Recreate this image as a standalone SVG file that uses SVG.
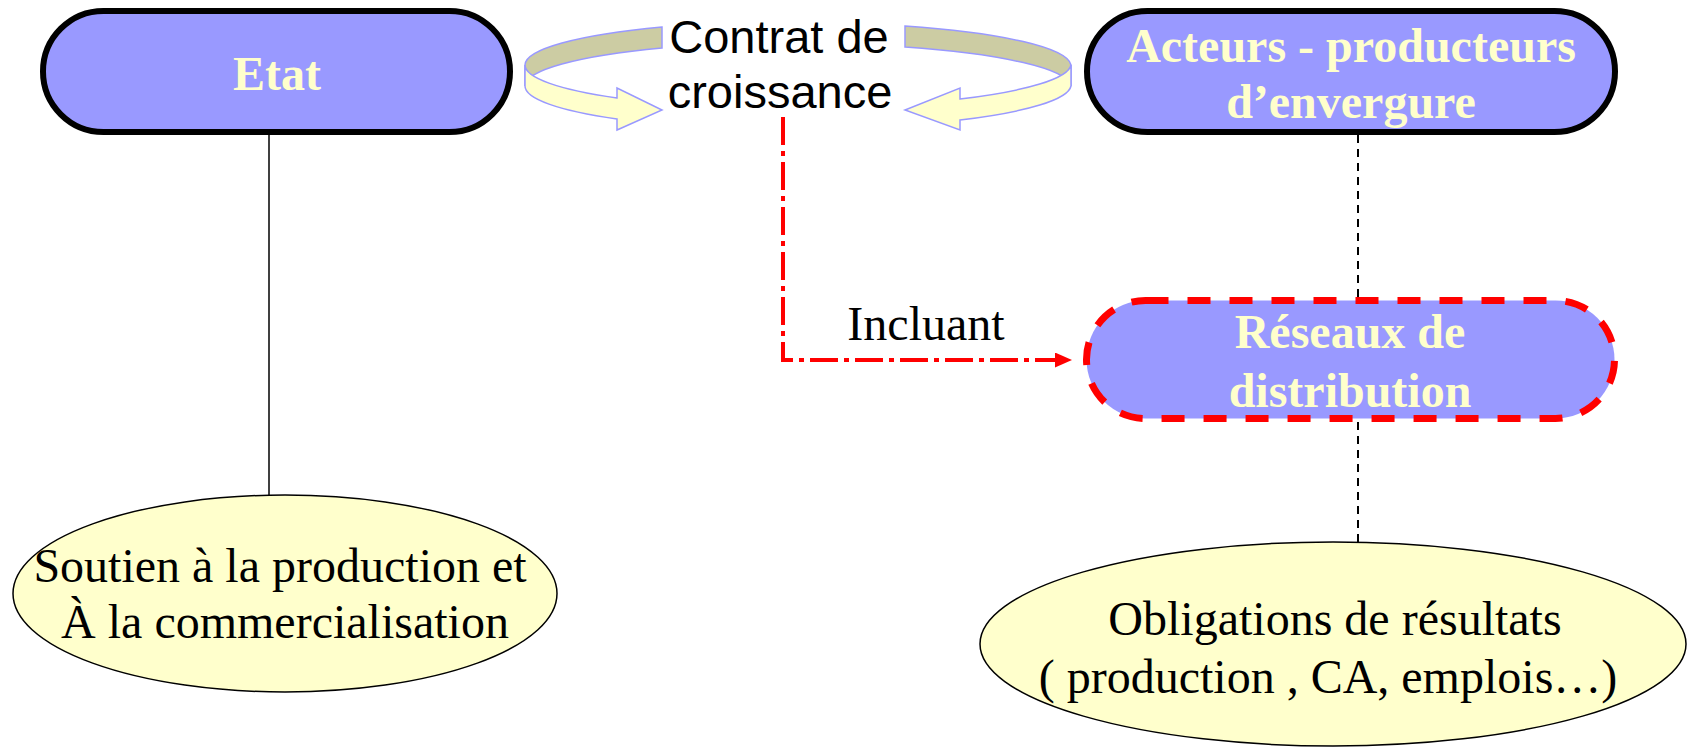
<svg xmlns="http://www.w3.org/2000/svg" width="1688" height="748" viewBox="0 0 1688 748">
  <style>
    .pill { fill: #9999FF; stroke: #000; stroke-width: 6; }
    .pill-red { fill: #9999FF; stroke: #FF0000; stroke-width: 7; stroke-dasharray: 23 19; }
    .title { font-family: "Liberation Serif", "Times New Roman", serif; font-weight: bold; font-size: 48px; fill: #FFFFCC; text-anchor: middle; }
    .oval { fill: #FFFFCC; stroke: #000; stroke-width: 1.5; }
    .body { font-family: "Liberation Serif", "Times New Roman", serif; font-size: 48px; fill: #000; text-anchor: middle; }
    .sans { font-family: "Liberation Sans", Arial, sans-serif; font-size: 47px; fill: #000; text-anchor: middle; }
    .ring-back { fill: #CCCCA3; stroke: #9999FF; stroke-width: 1.5; }
    .ring-front { fill: #FFFFCC; stroke: #9999FF; stroke-width: 1.5; stroke-linejoin: miter; }
    .link { fill: none; stroke: #000; stroke-width: 1.5; }
    .link-dash { fill: none; stroke: #000; stroke-width: 2; stroke-dasharray: 8 6; }
    .link-red { fill: none; stroke: #FF0000; stroke-width: 4; stroke-dasharray: 28 6 5 6; }
  </style>
  <defs>
    <marker id="redHead" viewBox="0 0 17 15" refX="0" refY="7.5" markerWidth="17" markerHeight="15" markerUnits="userSpaceOnUse" orient="auto">
      <path d="M0,0 L17,7.5 L0,15 Z" fill="#FF0000"/>
    </marker>
  </defs>

  <rect width="1688" height="748" fill="#FFFFFF"/>

  <!-- connectors -->
  <g id="connectors">
    <path class="link" d="M269,135 L269,495"/>
    <path class="link-dash" d="M1358,135 L1358,297"/>
    <path class="link-dash" d="M1358,422 L1358,542"/>
    <path class="link-red" d="M783,117 L783,360 L1055,360" marker-end="url(#redHead)"/>
    <text class="body" x="926" y="340">Incluant</text>
  </g>

  <!-- state -->
  <g id="etat">
    <rect class="pill" x="43" y="11" width="467" height="121" rx="60.5" ry="60.5"/>
    <text class="title" x="277" y="90">Etat</text>
  </g>

  <!-- growth contract with its two curved arrows -->
  <g id="contrat">
    <path class="ring-back" d="M662,27 A273,44 0 0 0 525,65 L525,86 A273,44 0 0 1 662,48 Z"/>
    <path class="ring-front" d="M525,65 A273,44 0 0 0 617,98 L617,88 L662,110 L617,130 L617,119 A273,44 0 0 1 525,86 Z"/>
    <path class="ring-back" d="M905,26 A273,44 0 0 1 1071,65 L1071,86 A273,44 0 0 0 905,47 Z"/>
    <path class="ring-front" d="M1071,65 A273,44 0 0 1 960,99 L960,88 L905,110 L960,130 L960,120 A273,44 0 0 0 1071,86 Z"/>
    <text class="sans" x="779" y="53">Contrat de</text>
    <text class="sans" x="780" y="108">croissance</text>
  </g>

  <!-- large producers -->
  <g id="acteurs">
    <rect class="pill" x="1087" y="11" width="528" height="121" rx="60.5" ry="60.5"/>
    <text class="title" x="1351" y="62">Acteurs - producteurs</text>
    <text class="title" x="1351" y="118">d’envergure</text>
  </g>

  <!-- distribution networks -->
  <g id="reseaux">
    <rect class="pill-red" x="1086.5" y="300.5" width="528" height="118" rx="59" ry="59"/>
    <text class="title" x="1350" y="348">Réseaux de</text>
    <text class="title" x="1350" y="407">distribution</text>
  </g>

  <!-- support -->
  <g id="soutien">
    <ellipse class="oval" cx="285" cy="593.5" rx="272" ry="98.5"/>
    <text class="body" x="280" y="582">Soutien à la production et</text>
    <text class="body" x="285" y="638">À la commercialisation</text>
  </g>

  <!-- result obligations -->
  <g id="obligations">
    <ellipse class="oval" cx="1333" cy="644" rx="353" ry="102"/>
    <text class="body" x="1335" y="635">Obligations de résultats</text>
    <text class="body" x="1328" y="693">( production , CA, emplois…)</text>
  </g>
</svg>
